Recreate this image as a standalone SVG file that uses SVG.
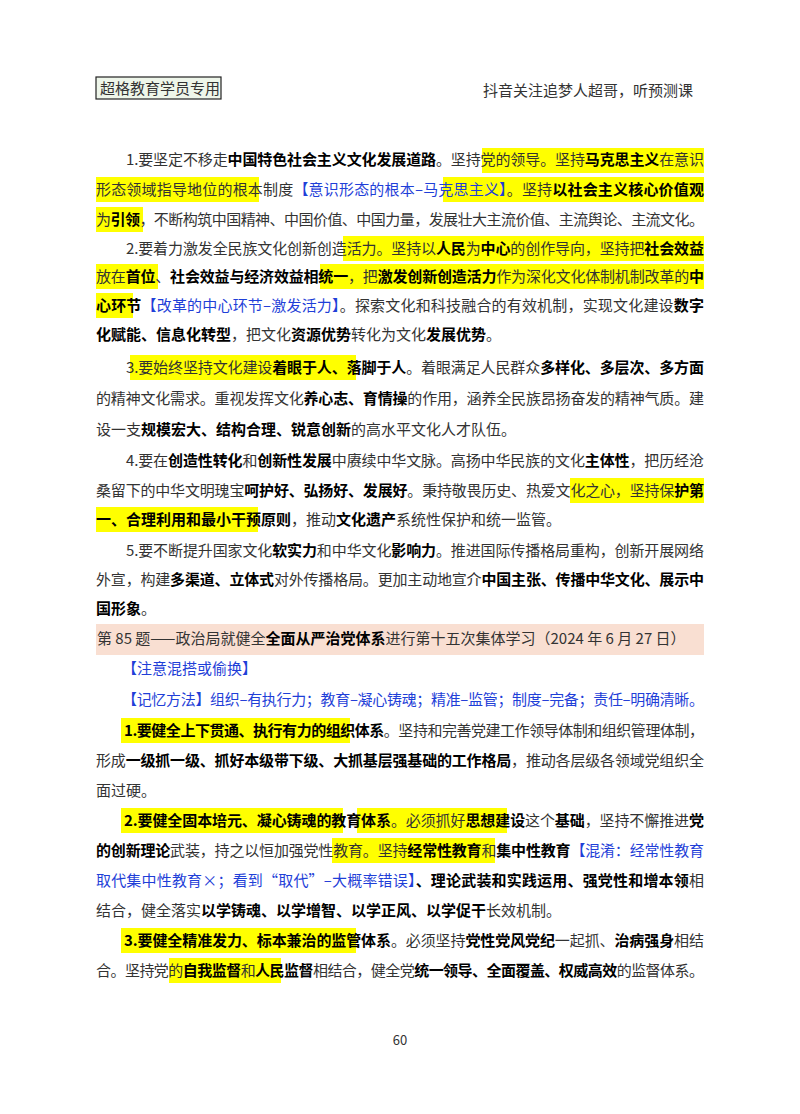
<svg xmlns="http://www.w3.org/2000/svg" width="800" height="1114" viewBox="0 0 800 1114">
<style>
text{font-family:"Noto Sans CJK SC","Liberation Serif",serif;font-size:15px;fill:#333}
.b{font-weight:bold;fill:#000}
.u{fill:#1f3fd8}
.h{fill:#ffff00}
</style>
<rect width="800" height="1114" fill="#fff"/>
<g id="header">
<rect x="96" y="77" width="125" height="22" fill="#eef6ea" stroke="#222" stroke-width="1.2"/>
<text x="100" y="94">超格教育学员专用</text>
<text x="693" y="96" text-anchor="end">抖音关注追梦人超哥，听预测课</text>
</g>
<g id="highlights">
<rect class="h" x="482" y="148" width="222" height="25"/>
<rect class="h" x="96" y="177" width="163" height="25"/>
<rect class="h" x="443" y="177" width="261" height="25"/>
<rect class="h" x="96" y="207" width="47" height="25"/>
<rect class="h" x="343" y="236" width="361" height="25"/>
<rect class="h" x="96" y="264" width="62" height="25"/>
<rect class="h" x="320" y="264" width="384" height="25"/>
<rect class="h" x="96" y="293" width="37" height="25"/>
<rect class="h" x="130" y="355" width="226" height="25"/>
<rect class="h" x="570" y="478" width="134" height="25"/>
<rect class="h" x="96" y="507" width="162" height="25"/>
<rect x="96" y="624" width="608" height="31" fill="#f9dfd2"/>
<rect class="h" x="121" y="718" width="229" height="25"/>
<rect class="h" x="121" y="808" width="222" height="25"/>
<rect class="h" x="357" y="808" width="150" height="25"/>
<rect class="h" x="332" y="838" width="163" height="25"/>
<rect class="h" x="121" y="928" width="235" height="25"/>
<rect class="h" x="169" y="958" width="112" height="25"/>
</g>
<g id="body">
<text x="126" y="165" textLength="578" lengthAdjust="spacing">1.要坚定不移走<tspan class="b">中国特色社会主义文化发展道路</tspan>。坚持党的领导。坚持<tspan class="b">马克思主义</tspan>在意识</text>
<text x="96" y="195" textLength="608" lengthAdjust="spacing">形态领域指导地位的根本制度<tspan class="u">【意识形态的根本–马克思主义】</tspan>。坚持<tspan class="b">以社会主义核心价值观</tspan></text>
<text x="96" y="225" textLength="608" lengthAdjust="spacing">为<tspan class="b">引领</tspan>，不断构筑中国精神、中国价值、中国力量，发展壮大主流价值、主流舆论、主流文化。</text>
<text x="126" y="254" textLength="578" lengthAdjust="spacing">2.要着力激发全民族文化创新创造活力。坚持以<tspan class="b">人民</tspan>为<tspan class="b">中心</tspan>的创作导向，坚持把<tspan class="b">社会效益</tspan></text>
<text x="96" y="282" textLength="608" lengthAdjust="spacing">放在<tspan class="b">首位</tspan>、<tspan class="b">社会效益与经济效益相统一</tspan>，把<tspan class="b">激发创新创造活力</tspan>作为深化文化体制机制改革的<tspan class="b">中</tspan></text>
<text x="96" y="311" textLength="608" lengthAdjust="spacing"><tspan class="b">心环节</tspan><tspan class="u">【改革的中心环节–激发活力】</tspan>。探索文化和科技融合的有效机制，实现文化建设<tspan class="b">数字</tspan></text>
<text x="96" y="340"><tspan class="b">化赋能、信息化转型</tspan>，把文化<tspan class="b">资源优势</tspan>转化为文化<tspan class="b">发展优势</tspan>。</text>
<text x="126" y="373" textLength="578" lengthAdjust="spacing">3.要始终坚持文化建设<tspan class="b">着眼于人、落脚于人</tspan>。着眼满足人民群众<tspan class="b">多样化、多层次、多方面</tspan></text>
<text x="96" y="404" textLength="608" lengthAdjust="spacing">的精神文化需求。重视发挥文化<tspan class="b">养心志、育情操</tspan>的作用，涵养全民族昂扬奋发的精神气质。建</text>
<text x="96" y="435">设一支<tspan class="b">规模宏大、结构合理、锐意创新</tspan>的高水平文化人才队伍。</text>
<text x="126" y="466" textLength="578" lengthAdjust="spacing">4.要在<tspan class="b">创造性转化</tspan>和<tspan class="b">创新性发展</tspan>中赓续中华文脉。高扬中华民族的文化<tspan class="b">主体性</tspan>，把历经沧</text>
<text x="96" y="496" textLength="608" lengthAdjust="spacing">桑留下的中华文明瑰宝<tspan class="b">呵护好、弘扬好、发展好</tspan>。秉持敬畏历史、热爱文化之心，坚持保<tspan class="b">护第</tspan></text>
<text x="96" y="525"><tspan class="b">一、合理利用和最小干预原则</tspan>，推动<tspan class="b">文化遗产</tspan>系统性保护和统一监管。</text>
<text x="126" y="556" textLength="578" lengthAdjust="spacing">5.要不断提升国家文化<tspan class="b">软实力</tspan>和中华文化<tspan class="b">影响力</tspan>。推进国际传播格局重构，创新开展网络</text>
<text x="96" y="585" textLength="608" lengthAdjust="spacing">外宣，构建<tspan class="b">多渠道、立体式</tspan>对外传播格局。更加主动地宣介<tspan class="b">中国主张、传播中华文化、展示中</tspan></text>
<text x="96" y="614"><tspan class="b">国形象</tspan>。</text>
<text x="97" y="644">第 85 题——政治局就健全<tspan class="b">全面从严治党体系</tspan>进行第十五次集体学习（2024 年 6 月 27 日）</text>
<text x="122" y="674" class="u">【注意混搭或偷换】</text>
<text x="122" y="705" class="u" textLength="582" lengthAdjust="spacing">【记忆方法】组织–有执行力；教育–凝心铸魂；精准–监管；制度–完备；责任–明确清晰。</text>
<text x="124" y="736" textLength="580" lengthAdjust="spacing"><tspan class="b">1.要健全上下贯通、执行有力的组织体系</tspan>。坚持和完善党建工作领导体制和组织管理体制，</text>
<text x="96" y="766" textLength="608" lengthAdjust="spacing">形成<tspan class="b">一级抓一级、抓好本级带下级、大抓基层强基础的工作格局</tspan>，推动各层级各领域党组织全</text>
<text x="96" y="796">面过硬。</text>
<text x="124" y="826" textLength="580" lengthAdjust="spacing"><tspan class="b">2.要健全固本培元、凝心铸魂的教育体系</tspan>。必须抓好<tspan class="b">思想建设</tspan>这个<tspan class="b">基础</tspan>，坚持不懈推进<tspan class="b">党</tspan></text>
<text x="96" y="856" textLength="608" lengthAdjust="spacing"><tspan class="b">的创新理论</tspan>武装，持之以恒加强党性教育。坚持<tspan class="b">经常性教育</tspan>和<tspan class="b">集中性教育</tspan><tspan class="u">【混淆：经常性教育</tspan></text>
<text x="96" y="886" textLength="608" lengthAdjust="spacing"><tspan class="u">取代集中性教育×；看到“取代”–大概率错误】</tspan><tspan class="b">、理论武装和实践运用、强党性和增本领</tspan>相</text>
<text x="96" y="916">结合，健全落实<tspan class="b">以学铸魂、以学增智、以学正风、以学促干</tspan>长效机制。</text>
<text x="124" y="946" textLength="580" lengthAdjust="spacing"><tspan class="b">3.要健全精准发力、标本兼治的监管体系</tspan>。必须坚持<tspan class="b">党性党风党纪</tspan>一起抓、<tspan class="b">治病强身</tspan>相结</text>
<text x="96" y="976" textLength="608" lengthAdjust="spacing">合。坚持党的<tspan class="b">自我监督</tspan>和<tspan class="b">人民监督</tspan>相结合，健全党<tspan class="b">统一领导、全面覆盖、权威高效</tspan>的监督体系。</text>
<text x="400" y="1045" text-anchor="middle" style="font-size:13px">60</text>
</g>
</svg>
